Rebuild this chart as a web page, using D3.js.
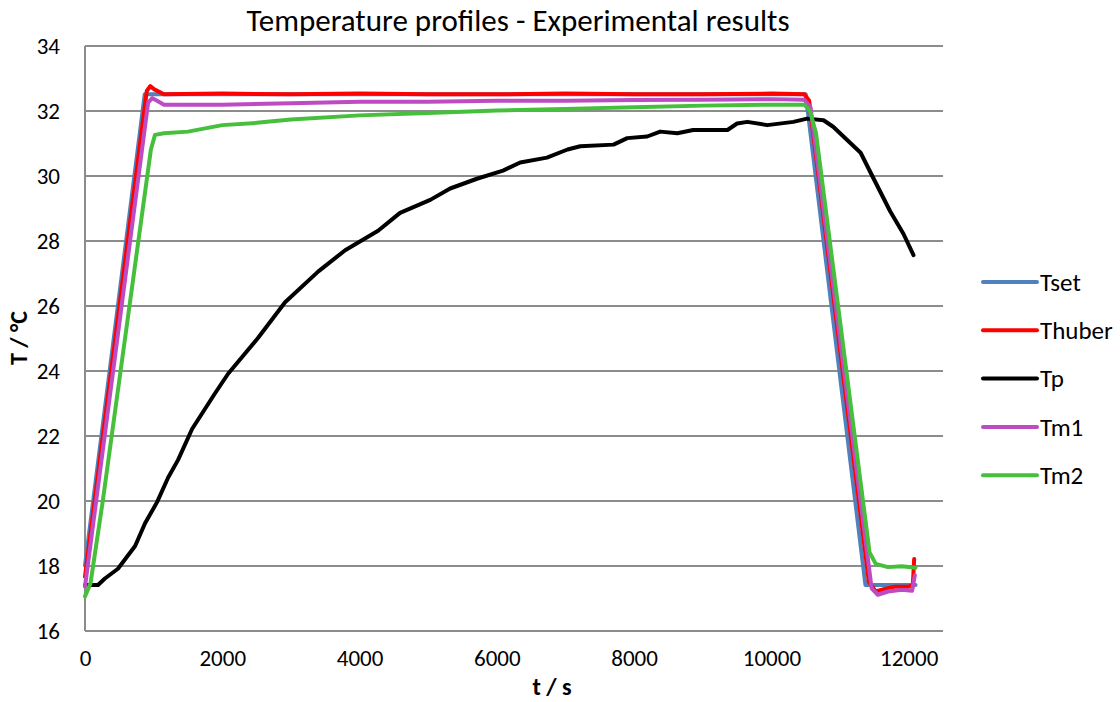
<!DOCTYPE html>
<html>
<head>
<meta charset="utf-8">
<script src="https://cdn.jsdelivr.net/npm/d3@7"></script>
<style>
	body { margin: 0; background: #fff; }
	svg text { font-family: Carlito, Calibri, Lato, sans-serif; fill: #000; }
</style>
</head>
<body>
<div id="chart"></div>
<script>
// series: [t in s, T in °C]
var seriesNames = ["Tset", "Thuber", "Tp", "Tm1", "Tm2"];
var seriesColours = ["#4f81bd", "#ff0000", "#000000", "#bf4bc3", "#46bf3c"];

var tset = [[0, 18.0], [870, 32.5], [10500, 32.5], [11370, 17.4], [12100, 17.4]];

var thuber = [[0, 17.65], [900, 32.6], [950, 32.75], [1010, 32.65], [1150, 32.5], [2000, 32.52], [3000, 32.5],
	[4000, 32.52], [5000, 32.5], [6000, 32.5], [7000, 32.52], [8000, 32.5], [9000, 32.5], [10000, 32.52],
	[10480, 32.5], [10550, 32.3], [11420, 17.5], [11520, 17.2], [11650, 17.28], [11800, 17.35], [12000, 17.35],
	[12060, 17.4], [12080, 18.2]];

var tp = [[0, 17.4], [190, 17.4], [290, 17.6], [480, 17.9], [730, 18.6], [875, 19.3], [1050, 19.95], [1210, 20.7],
	[1356, 21.25], [1560, 22.2], [1895, 23.3], [2085, 23.9], [2520, 25.0], [2915, 26.1], [3400, 27.05], [3790, 27.7],
	[4270, 28.3], [4590, 28.85], [5030, 29.25], [5320, 29.6], [5710, 29.9], [6090, 30.15], [6340, 30.4], [6730, 30.55],
	[7030, 30.8], [7215, 30.9], [7700, 30.95], [7900, 31.15], [8190, 31.2], [8380, 31.35], [8630, 31.3], [8860, 31.4],
	[9360, 31.4], [9500, 31.6], [9650, 31.65], [9940, 31.55], [10320, 31.65], [10520, 31.75], [10760, 31.7],
	[10900, 31.5], [11100, 31.1], [11300, 30.7], [11490, 29.9], [11730, 28.9], [11925, 28.2], [12070, 27.55]];

var tm1 = [[0, 17.35], [920, 32.25], [980, 32.38], [1050, 32.3], [1150, 32.18], [2000, 32.18], [3000, 32.22],
	[4000, 32.27], [5000, 32.27], [6000, 32.3], [7000, 32.3], [8000, 32.32], [9000, 32.33], [10000, 32.35],
	[10480, 32.33], [10570, 32.1], [11460, 17.3], [11550, 17.1], [11700, 17.2], [11900, 17.25], [12050, 17.22],
	[12090, 17.7]];

var tm2 = [[0, 17.05], [80, 17.45], [260, 20.0], [960, 30.8], [1020, 31.25], [1150, 31.3], [1500, 31.35],
	[2000, 31.55], [2500, 31.62], [3000, 31.72], [4000, 31.85], [5000, 31.92], [6000, 32.0], [7000, 32.05],
	[8000, 32.1], [9000, 32.15], [10000, 32.18], [10480, 32.18], [10560, 32.0], [10650, 31.3], [11430, 18.4],
	[11520, 18.05], [11700, 17.95], [11900, 17.98], [12100, 17.93]];

var xTicks = [0, 2000, 4000, 6000, 8000, 10000, 12000];
var yTicks = [16, 18, 20, 22, 24, 26, 28, 30, 32, 34];

var allSeries = [tset, thuber, tp, tm1, tm2];

var width = 1120, height = 702;
var margin = { left: 85, right: 177, top: 45.5, bottom: 71.5 };

var svg = d3.select("#chart").append("svg")
	.attr("width", width)
	.attr("height", height);

var x = d3.scaleLinear()
	.domain([0, 12500])
	.range([margin.left, width - margin.right]);

var y = d3.scaleLinear()
	.domain([16, 34])
	.range([height - margin.bottom, margin.top]);

// horizontal gridlines (the top one doubles as the frame)
svg.append("g")
	.attr("class", "grid")
	.selectAll("line")
	.data(yTicks)
	.enter().append("line")
		.attr("x1", x(0))
		.attr("x2", x(12500))
		.attr("y1", function(d) { return Math.round(y(d)); })
		.attr("y2", function(d) { return Math.round(y(d)); })
		.attr("stroke", "#8c8c8c")
		.attr("stroke-width", 2);

// left axis line
svg.append("line")
	.attr("x1", x(0)).attr("x2", x(0))
	.attr("y1", Math.round(y(34))).attr("y2", Math.round(y(16)))
	.attr("stroke", "#8c8c8c")
	.attr("stroke-width", 2);

var yAxis = d3.axisLeft(y).tickValues(yTicks).tickSize(0).tickPadding(25).tickFormat(d3.format("d"));
var xAxis = d3.axisBottom(x).tickValues(xTicks).tickSize(0).tickPadding(19).tickFormat(d3.format("d"));

svg.append("g")
	.attr("transform", "translate(" + x(0) + ",0)")
	.call(yAxis)
	.call(function(g) { g.select(".domain").remove(); })
	.selectAll("text")
		.style("font-size", "23px")
		.attr("dy", "0.35em");

svg.append("g")
	.attr("transform", "translate(0," + y(16) + ")")
	.call(xAxis)
	.call(function(g) { g.select(".domain").remove(); })
	.selectAll("text")
		.style("font-size", "23px");

var line = d3.line()
	.x(function(d) { return x(d[0]); })
	.y(function(d) { return y(d[1]); });

svg.append("g")
	.attr("class", "series")
	.selectAll("path")
	.data(allSeries)
	.enter().append("path")
		.attr("d", line)
		.attr("fill", "none")
		.attr("stroke", function(d, i) { return seriesColours[i]; })
		.attr("stroke-width", 4)
		.attr("stroke-linejoin", "round")
		.attr("stroke-linecap", "round");

// title and axis titles
svg.append("text")
	.attr("x", 518)
	.attr("y", 31)
	.attr("text-anchor", "middle")
	.style("font-size", "31px")
	.text("Temperature profiles - Experimental results");

svg.append("text")
	.attr("transform", "translate(27,338) rotate(-90)")
	.attr("text-anchor", "middle")
	.style("font-size", "24px")
	.style("font-weight", "bold")
	.text("T / °C");

svg.append("text")
	.attr("x", 552)
	.attr("y", 695)
	.attr("text-anchor", "middle")
	.style("font-size", "24px")
	.style("font-weight", "bold")
	.text("t / s");

// legend
var legend = svg.append("g")
	.attr("class", "legend")
	.attr("transform", "translate(983,282)");

var rows = legend.selectAll("g")
	.data(seriesNames)
	.enter().append("g")
		.attr("transform", function(d, i) { return "translate(0," + (i * 48.3) + ")"; });

rows.append("line")
	.attr("x1", 0).attr("x2", 54)
	.attr("stroke", function(d, i) { return seriesColours[i]; })
	.attr("stroke-width", 4)
	.attr("stroke-linecap", "round");

rows.append("text")
	.attr("x", 57)
	.attr("dy", "0.35em")
	.style("font-size", "25px")
	.text(function(d) { return d; });
</script>
</body>
</html>
